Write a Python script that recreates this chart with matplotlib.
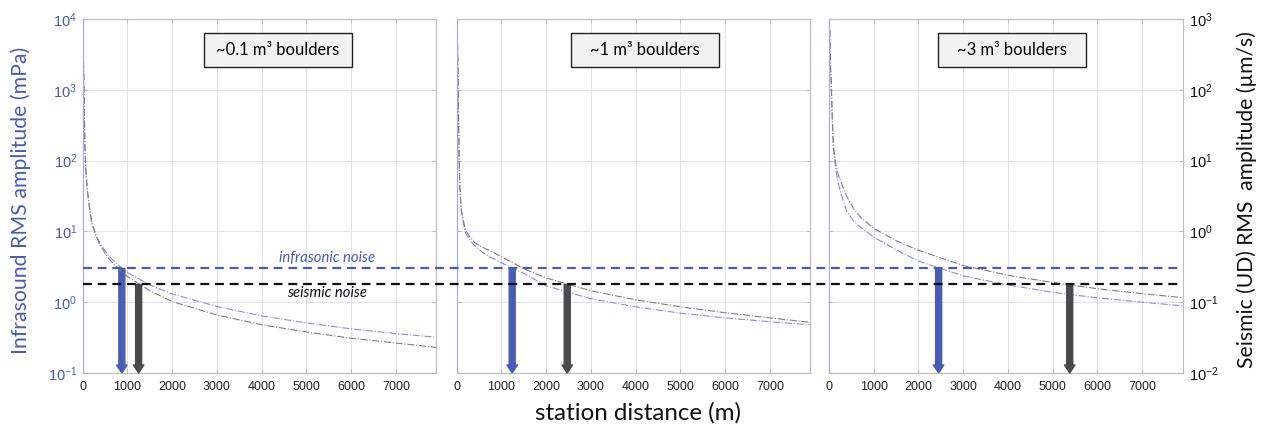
import matplotlib
matplotlib.use("Agg")
import matplotlib.pyplot as plt
from matplotlib.lines import Line2D
from matplotlib.patches import Rectangle
from matplotlib.ticker import NullLocator, FixedLocator
from matplotlib.transforms import blended_transform_factory

plt.rcParams['font.family'] = ['Liberation Sans', 'DejaVu Sans']
plt.rcParams['mathtext.fontset'] = 'custom'
plt.rcParams['mathtext.rm'] = 'Liberation Sans'
plt.rcParams['mathtext.it'] = 'Liberation Sans:italic'

# station distance (m)
dist = [18, 25, 35, 50, 70, 100, 150, 200, 300, 400, 550, 700, 1000, 1500,
        2000, 3000, 4000, 5000, 6000, 7000, 7900]

# infrasound RMS amplitude (mPa) and seismic RMS amplitude (um/s)
infra_01 = [2500, 1500, 500, 160, 75, 40, 22, 13.5, 8.8, 6.6, 4.8, 3.75, 2.62,
            1.75, 1.31, 0.87, 0.64, 0.51, 0.42, 0.36, 0.32]
seis_01 = [250, 150, 50, 16, 7.5, 4.0, 2.2, 1.35, 0.85, 0.62, 0.44, 0.34, 0.23,
           0.145, 0.102, 0.066, 0.048, 0.038, 0.031, 0.0265, 0.023]
infra_1 = [4500, 2500, 800, 150, 40, 20, 13, 9.5, 7.5, 6.3, 5.2, 4.5, 3.6,
           2.55, 1.7, 1.12, 0.86, 0.70, 0.60, 0.53, 0.48]
seis_1 = [450, 250, 80, 15, 4.2, 2.1, 1.4, 1.03, 0.83, 0.70, 0.61, 0.55, 0.44,
          0.297, 0.22, 0.145, 0.108, 0.086, 0.071, 0.060, 0.052]
infra_3 = [7000, 4000, 2000, 1300, 450, 150, 75, 50, 29, 19, 14, 11.5, 8.3,
           5.5, 3.8, 2.35, 1.75, 1.38, 1.15, 1.0, 0.89]
seis_3 = [700, 400, 200, 130, 45, 15.5, 9.0, 6.5, 4.4, 3.1, 2.1, 1.6, 1.1,
          0.74, 0.54, 0.33, 0.24, 0.19, 0.155, 0.132, 0.116]

infra_all = [infra_01, infra_1, infra_3]
seis_all = [seis_01, seis_1, seis_3]
titles = ["~0.1 m³ boulders", "~1 m³ boulders", "~3 m³ boulders"]

infra_noise = 3.0     # mPa
seis_noise = 0.178    # um/s
infra_cross = [875, 1240, 2450]
seis_cross = [1250, 2470, 5380]

xticks = [0, 1000, 2000, 3000, 4000, 5000, 6000, 7000]
yticks_l = [1e-1, 1, 10, 100, 1000, 1e4]
yticks_r = [1e-2, 1e-1, 1, 10, 100, 1000]

BLUE = '#4a5cb0'
LBLUE = '#8c8cdc'
GRAY = '#808080'
DGRAY = '#4a4a4a'
TXT = 'Lato'

W, H = 1264, 428
lefts = [82.7, 456.7, 829.0]
axw, top, bot = 353.5, 19.0, 373.0
boxes = [(0.343, 0.761), (0.323, 0.743), (0.308, 0.727)]

fig = plt.figure(figsize=(W / 100, H / 100), dpi=100)
axes, twins = [], []
for i in range(3):
    ax = fig.add_axes([lefts[i] / W, (H - bot) / H, axw / W, (bot - top) / H])
    ax.set_facecolor('none')
    ax.set_yscale('log')
    ax.set_ylim(0.1, 1e4)
    ax.set_xlim(0, 7900)
    ax.xaxis.set_major_locator(FixedLocator(xticks))
    ax.yaxis.set_major_locator(FixedLocator(yticks_l))
    ax.yaxis.set_minor_locator(NullLocator())
    ax.grid(True, color='#e2e2ee', lw=0.7)
    ax.set_axisbelow(True)

    axs = ax.twinx()
    axs.set_yscale('log')
    axs.set_ylim(0.01, 1e3)
    axs.yaxis.set_major_locator(FixedLocator(yticks_r))
    axs.yaxis.set_minor_locator(NullLocator())

    ax.plot(dist, infra_all[i], color=LBLUE, ls='-.', lw=0.8)
    axs.plot(dist, seis_all[i], color=GRAY, ls='-.', lw=0.8)

    ax.annotate('', xy=(infra_cross[i], 0.1), xytext=(infra_cross[i], infra_noise),
                arrowprops=dict(arrowstyle='simple,head_width=0.42,head_length=0.32,tail_width=0.24',
                                color=BLUE, shrinkA=0, shrinkB=0, mutation_scale=18))
    axs.annotate('', xy=(seis_cross[i], 0.01), xytext=(seis_cross[i], seis_noise),
                 arrowprops=dict(arrowstyle='simple,head_width=0.42,head_length=0.32,tail_width=0.24',
                                 color=DGRAY, shrinkA=0, shrinkB=0, mutation_scale=18))

    x0, x1 = boxes[i]
    ax.add_patch(Rectangle((x0, 0.864), x1 - x0, 0.096, transform=ax.transAxes,
                           facecolor='#f2f2f2', edgecolor='#222222', lw=1.0, zorder=5))
    ax.text((x0 + x1) / 2, 0.912, titles[i], transform=ax.transAxes, ha='center',
            va='center', fontsize=11.9, family=[TXT, 'DejaVu Sans'], zorder=6)

    ax.tick_params(axis='x', direction='in', length=3, top=True, labelsize=9,
                   colors='#bbbbbb', labelcolor='#222222', pad=6)
    ax.tick_params(axis='y', direction='in', length=3, labelsize=10.5,
                   colors='#bbbbbb', labelcolor=BLUE, pad=4)
    axs.tick_params(axis='y', direction='in', length=3, labelsize=10.5,
                    colors='#bbbbbb', labelcolor='#111111', pad=5)
    if i > 0:
        ax.tick_params(axis='y', labelleft=False)
    if i < 2:
        axs.tick_params(axis='y', labelright=False)
    for a in (ax, axs):
        for s in ('top', 'right', 'bottom'):
            a.spines[s].set_color('#bdbdbd')
        a.spines['left'].set_color('#a8a8e4')
    axes.append(ax)
    twins.append(axs)

# noise levels run across all panels
x_start = lefts[0] / W
x_end = (lefts[2] + axw) / W
tr_l = blended_transform_factory(fig.transFigure, axes[0].transData)
tr_r = blended_transform_factory(fig.transFigure, twins[0].transData)
fig.add_artist(Line2D([x_start, x_end], [infra_noise, infra_noise], transform=tr_l,
                      color=BLUE, lw=1.6, ls=(0, (4, 2.6)), zorder=4))
fig.add_artist(Line2D([x_start, x_end], [seis_noise, seis_noise], transform=tr_r,
                      color='#111111', lw=1.6, ls=(0, (4, 2.6)), zorder=4))

axes[0].text(0.692, 4.2, 'infrasonic noise', transform=axes[0].get_yaxis_transform(),
             ha='center', va='center', fontsize=10.7, style='italic', color=BLUE,
             family=[TXT, 'DejaVu Sans'])
axes[0].text(0.692, 1.35, 'seismic noise', transform=axes[0].get_yaxis_transform(),
             ha='center', va='center', fontsize=10.7, style='italic', color='#111111',
             family=[TXT, 'DejaVu Sans'])

fig.text(638 / W, 1 - 413 / H, 'station distance (m)', ha='center', va='center',
         fontsize=17.4, family=[TXT, 'DejaVu Sans'], color='#111111')
fig.text(21 / W, 1 - 200 / H, 'Infrasound RMS amplitude (mPa)', ha='center', va='center',
         rotation=90, fontsize=15.3, family=[TXT, 'DejaVu Sans'], color=BLUE)
fig.text(1247 / W, 1 - 200 / H, 'Seismic (UD) RMS  amplitude (µm/s)', ha='center',
         va='center', rotation=90, fontsize=15.2, family=[TXT, 'DejaVu Sans'], color='#111111')

fig.savefig('out.png', dpi=100)
